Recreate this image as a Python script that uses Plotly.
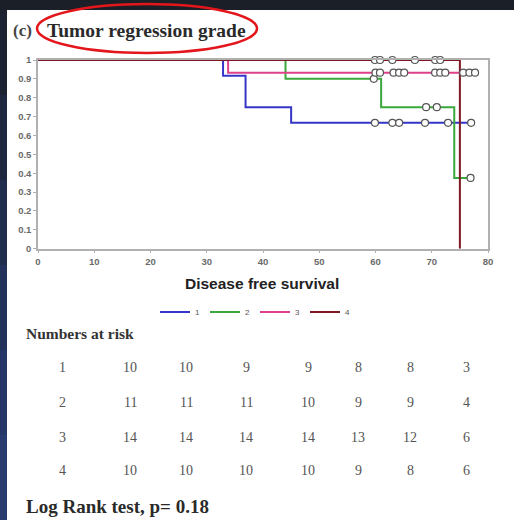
import plotly.graph_objects as go

W, H = 514, 520

# ---- data ----
groups = ["1", "2", "3", "4"]
colors = ["#3535c8", "#3aa83a", "#e0408a", "#7e1822"]

g1_time = [0, 32.9, 36.9, 45.0, 77.0]
g1_surv = [1.0, 0.917, 0.75, 0.667, 0.667]
g1_cens_time = [59.9, 63.0, 64.2, 68.8, 72.9, 77.0]
g1_cens_surv = [0.667, 0.667, 0.667, 0.667, 0.667, 0.667]

g2_time = [0, 44.0, 61.0, 74.0, 77.0]
g2_surv = [1.0, 0.9, 0.75, 0.375, 0.375]
g2_cens_time = [59.7, 69.0, 70.9, 76.9]
g2_cens_surv = [0.9, 0.75, 0.75, 0.375]

g3_time = [0, 33.8, 77.7]
g3_surv = [1.0, 0.933, 0.933]
g3_cens_time = [60.0, 60.8, 63.2, 64.2, 65.1, 70.6, 71.5, 72.4, 75.6, 76.7, 77.7]
g3_cens_surv = [0.933] * 11

g4_time = [0, 75.0, 75.0]
g4_surv = [1.0, 1.0, 0.0]
g4_cens_time = [59.9, 60.8, 63.0, 67.0, 70.6, 71.5]
g4_cens_surv = [1.0] * 6

x_ticks = [0, 10, 20, 30, 40, 50, 60, 70, 80]
y_ticks = [0, 0.1, 0.2, 0.3, 0.4, 0.5, 0.6, 0.7, 0.8, 0.9, 1.0]
y_tick_labels = ["0", "0.1", "0.2", "0.3", "0.4", "0.5", "0.6", "0.7", "0.8", "0.9", "1"]

risk_group_labels = ["1", "2", "3", "4"]
risk_g1 = [10, 10, 9, 9, 8, 8, 3]
risk_g2 = [11, 11, 11, 10, 9, 9, 4]
risk_g3 = [14, 14, 14, 14, 13, 12, 6]
risk_g4 = [10, 10, 10, 10, 9, 8, 6]

title_prefix = "(c)"
title_text = "Tumor regression grade"
x_title = "Disease free survival"
risk_title = "Numbers at risk"
logrank_text = "Log Rank test, p= 0.18"

# ---- helpers (pixel -> paper) ----
def px(x):
    return x / W

def py(y):
    return 1 - y / H

fig = go.Figure()

series = [
    (g1_time, g1_surv, g1_cens_time, g1_cens_surv),
    (g2_time, g2_surv, g2_cens_time, g2_cens_surv),
    (g3_time, g3_surv, g3_cens_time, g3_cens_surv),
    (g4_time, g4_surv, g4_cens_time, g4_cens_surv),
]

for name, col, (t, s, ct, cs) in zip(groups, colors, series):
    fig.add_trace(go.Scatter(
        x=t, y=s, mode="lines", name=name,
        line=dict(color=col, width=2, shape="hv"),
    ))

for name, col, (t, s, ct, cs) in zip(groups, colors, series):
    fig.add_trace(go.Scatter(
        x=ct, y=cs, mode="markers", showlegend=False,
        marker=dict(symbol="circle", size=7, color="white",
                    line=dict(color="#555555", width=1.2)),
        cliponaxis=False,
    ))

shapes = []
band_cols = ["#1c2232", "#1e2740", "#212d4d", "#23325a", "#253766", "#283c70"]
n = len(band_cols)
for i, c in enumerate(band_cols):
    shapes.append(dict(type="rect", xref="paper", yref="paper",
                       x0=0, x1=px(7), y0=py(10 + (i + 1) * (510 / n)),
                       y1=py(10 + i * (510 / n)),
                       fillcolor=c, line=dict(width=0), layer="below"))
# white panel
shapes.append(dict(type="rect", xref="paper", yref="paper",
                   x0=px(7), x1=1, y0=0, y1=py(10), fillcolor="white",
                   line=dict(width=0), layer="below"))
# red ellipse around title
shapes.append(dict(type="circle", xref="paper", yref="paper",
                   x0=px(37), x1=px(257), y0=py(53), y1=py(4),
                   line=dict(color="#e3161c", width=2.5)))
fig.update_layout(shapes=shapes)

def note(text, x, y, size, family, color, anchor="left"):
    return dict(text=text, x=px(x), y=py(y), xref="paper", yref="paper",
                xanchor=anchor, yanchor="middle", showarrow=False,
                font=dict(family=family, size=size, color=color))

ann = []
ann.append(note("<b>" + title_prefix + "</b>", 11, 30, 17, "Liberation Serif", "#444444"))
ann.append(note("<b>" + title_text + "</b>", 45, 30, 19.5, "Liberation Serif", "#2a2a2a"))
ann.append(note("<b>" + x_title + "</b>", 262, 283, 15.5, "Liberation Sans", "#222222", "center"))
ann.append(note("<b>" + risk_title + "</b>", 24, 333, 15.5, "Liberation Serif", "#333333"))
ann.append(note("<b>" + logrank_text + "</b>", 24, 506, 19, "Liberation Serif", "#2a2a2a"))

col_x = [130, 186, 246, 308, 358, 410, 466]
row_y = [367, 402, 437, 470]
risk_rows = [risk_g1, risk_g2, risk_g3, risk_g4]
for lab, row, yy in zip(risk_group_labels, risk_rows, row_y):
    ann.append(note(lab, 62, yy, 14, "Liberation Serif", "#555555", "center"))
    for v, xx in zip(row, col_x):
        ann.append(note(str(v), xx, yy, 14, "Liberation Serif", "#555555", "center"))
fig.update_layout(annotations=ann)

tick_font = dict(family="Liberation Sans", size=9.5, color="#6a6a6a", weight="bold")

fig.update_layout(
    width=W, height=H,
    margin=dict(l=0, r=0, t=0, b=0),
    paper_bgcolor="#1b1f27",
    plot_bgcolor="white",
    showlegend=True,
    legend=dict(orientation="h", x=px(255), y=py(312), xanchor="center",
                yanchor="middle", bgcolor="rgba(0,0,0,0)",
                font=dict(family="Liberation Sans", size=8, color="#555555"),
                itemwidth=30, tracegroupgap=0),
    xaxis=dict(domain=[px(38), px(488)], range=[0, 80], tickvals=x_ticks,
               showgrid=False, zeroline=False, showline=True, mirror=True,
               linecolor="#b0b0b0", linewidth=1.5, ticks="outside",
               ticklen=3, tickcolor="#b0b0b0", automargin=False,
               tickfont=tick_font),
    yaxis=dict(domain=[py(248.7), py(60)], range=[0, 1], tickvals=y_ticks,
               ticktext=y_tick_labels, showgrid=False, zeroline=False,
               showline=True, mirror=True, linecolor="#b0b0b0", linewidth=1.5,
               ticks="outside", ticklen=3, tickcolor="#b0b0b0", automargin=False,
               tickfont=tick_font),
)

fig.write_html(
    "out.html",
    config={"displayModeBar": False},
    post_script="document.body.style.margin='0';document.body.style.overflow='hidden';",
)
